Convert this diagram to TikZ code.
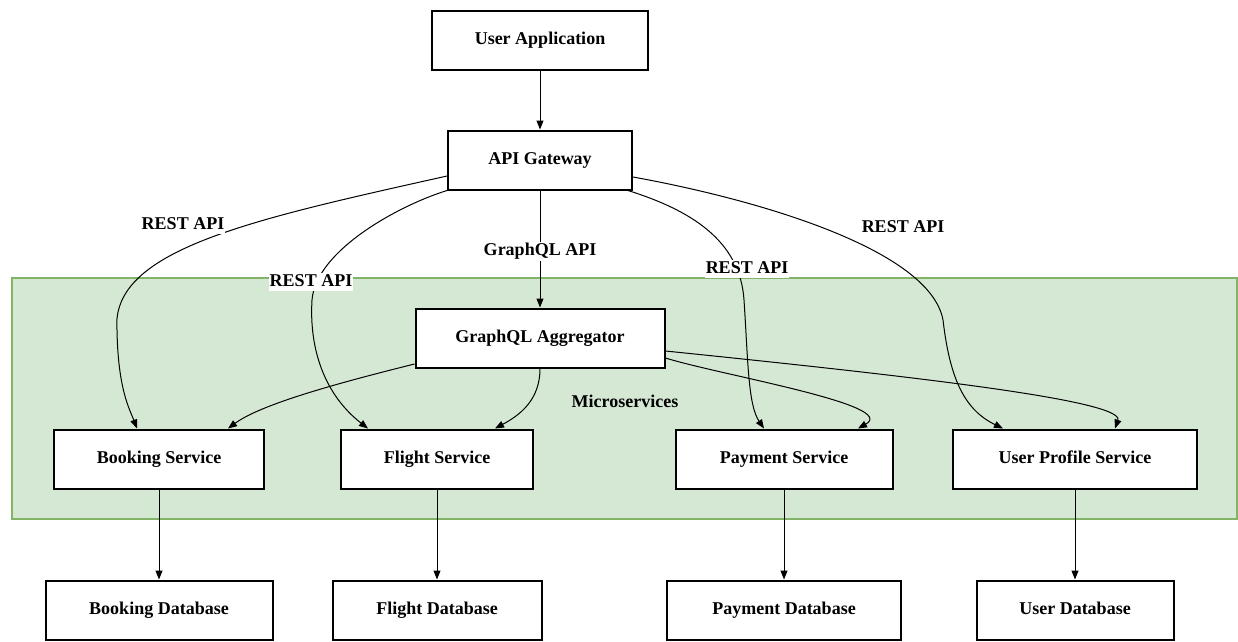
\documentclass[tikz,border=0pt]{standalone}
\usepackage{fontspec}
\setmainfont{Liberation Serif}
\usetikzlibrary{arrows.meta}
\definecolor{groupfill}{HTML}{D5E8D4}
\definecolor{groupline}{HTML}{82B366}
\begin{document}
\begin{tikzpicture}[x=1pt, y=-1pt,
    font=\fontsize{18}{20}\selectfont\bfseries,
    box/.style={draw, line width=2pt, fill=white, minimum height=59pt, inner sep=0pt,
      text height=12.5pt, text depth=4pt},
    link/.style={-{Triangle[length=9pt,width=7pt]}, line width=1pt},
    lbl/.style={fill=white, inner sep=1pt, text height=12.5pt, text depth=4pt}]
  \useasboundingbox (0,0) rectangle (1238,641);
  \draw[groupline, fill=groupfill, line width=2pt] (12,278) rectangle (1237,519);
  \path (625,401) node[name=micro] {Microservices};

  \path (540,40) node[box, name=app, minimum width=216pt] {User Application};
  \path (540,160) node[box, name=gw, minimum width=184pt] {API Gateway};
  \path (540,338) node[box, name=agg, minimum width=249pt] {GraphQL Aggregator};
  \path (159,459) node[box, name=booking, minimum width=210pt] {Booking Service};
  \path (437,459) node[box, name=flight, minimum width=192pt] {Flight Service};
  \path (784,459) node[box, name=payment, minimum width=217pt] {Payment Service};
  \path (1075,459) node[box, name=profile, minimum width=244pt] {User Profile Service};
  \path (159,610) node[box, name=bookingdb, minimum width=227pt] {Booking Database};
  \path (437,610) node[box, name=flightdb, minimum width=209pt] {Flight Database};
  \path (784,610) node[box, name=paymentdb, minimum width=234pt] {Payment Database};
  \path (1075,610) node[box, name=userdb, minimum width=197pt] {User Database};

  \draw[link] (app) -- (gw);
  \draw[link] (gw) -- node[lbl, pos=0.52] {GraphQL API} (agg);
  \draw[link] ([yshift=-16pt]gw.west) .. controls (250,220) and (110,250) .. (117,330)
    .. controls (118,390) and (130,410) .. ([xshift=-22pt]booking.north);
  \draw[link] (gw.south west) .. controls (400,205) and (316,250) .. (312,300)
    .. controls (309,350) and (325,395) .. ([xshift=-69pt]flight.north);
  \draw[link] ([xshift=-5pt]gw.south east) .. controls (690,210) and (740,240) .. (744,300)
    .. controls (748,360) and (748,405) .. ([xshift=-20pt]payment.north);
  \draw[link] ([yshift=-17pt]gw.east) .. controls (760,200) and (930,250) .. (943,320)
    .. controls (950,380) and (965,410) .. ([xshift=-72pt]profile.north);

  \draw[link] ([yshift=-26pt]agg.west) .. controls (330,385) and (260,405) .. ([xshift=69pt]booking.north);
  \draw[link] (agg.south) .. controls (540,400) and (520,415) .. ([xshift=58pt]flight.north);
  \draw[link] ([yshift=-20pt]agg.east) .. controls (720,375) and (900,405) .. ([xshift=74pt]payment.north);
  \draw[link] ([yshift=-13pt]agg.east) .. controls (900,375) and (1125,400) .. ([xshift=40pt]profile.north);

  \draw[link] (booking) -- (bookingdb);
  \draw[link] (flight) -- (flightdb);
  \draw[link] (payment) -- (paymentdb);
  \draw[link] (profile) -- (userdb);

  \path (183,225) node[lbl, name=rest1] {REST API};
  \path (311,282) node[lbl, name=rest2] {REST API};
  \path (747,269) node[lbl, name=rest3] {REST API};
  \path (903,228) node[lbl, name=rest4] {REST API};
\end{tikzpicture}
\end{document}
